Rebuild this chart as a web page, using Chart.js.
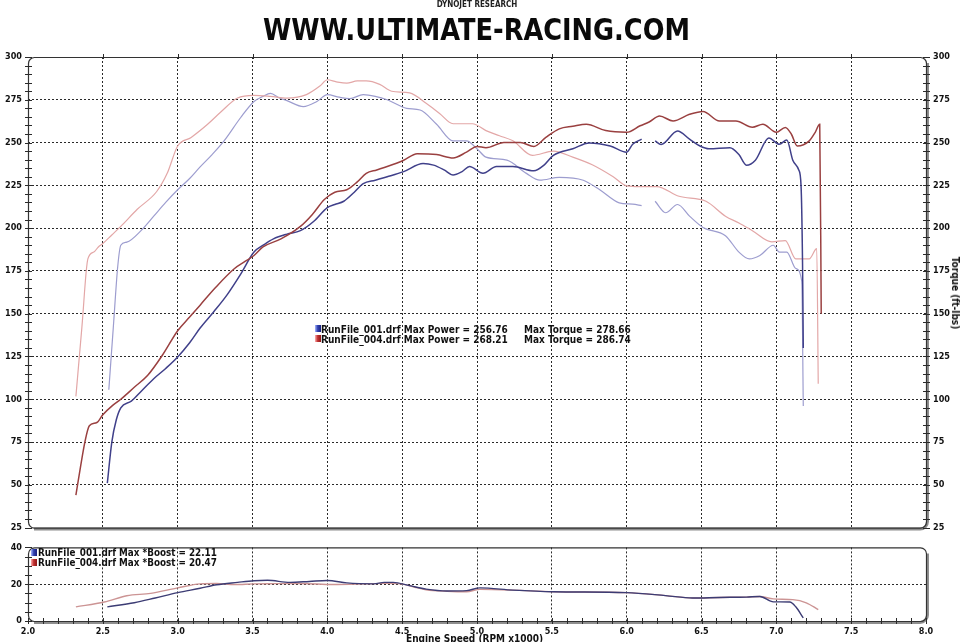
<!DOCTYPE html>
<html><head><meta charset="utf-8">
<script src="https://cdn.jsdelivr.net/npm/chart.js@4.4.1/dist/chart.umd.min.js"></script>
<style>
html,body{margin:0;padding:0;background:#fff;}
#wrap{position:relative;width:962px;height:642px;overflow:hidden;background:#fff;}
canvas{position:absolute;left:0;}
.t{position:absolute;white-space:nowrap;font-family:'DejaVu Sans Condensed','DejaVu Sans',sans-serif;font-weight:bold;color:#111;line-height:10px;font-size:10px;}
#brand{top:0px;left:0;width:954px;text-align:center;font-size:8px;line-height:9px;color:#222;}
#site{top:15px;left:263px;font-family:'Liberation Sans Narrow','DejaVu Sans Condensed',sans-serif;font-size:30px;line-height:30px;color:#0a0a0a;transform-origin:0 50%;}
.sq{position:absolute;width:6px;height:7px;}
.sqb{background:linear-gradient(90deg,#a8b8ff 0%,#3040b0 45%,#1a2080 100%);}
.sqr{background:linear-gradient(90deg,#ffb0b0 0%,#c03030 45%,#901818 100%);}
.bl{font-size:9.8px;}
#ytitle{left:955px;top:293px;font-size:10px;transform:translate(-50%,-50%) rotate(90deg);}
#xtitle{left:406px;top:634px;font-size:10px;}
</style></head>
<body>
<div id="wrap">
<canvas id="main" width="962" height="540" style="top:0px"></canvas>
<canvas id="boost" width="962" height="106" style="top:536px"></canvas>
<div class="t" id="brand">DYNOJET RESEARCH</div>
<div class="t" id="site">WWW.ULTIMATE-RACING.COM</div>
<div class="sq sqb" style="left:315px;top:325px"></div>
<div class="sq sqr" style="left:315px;top:335px"></div>
<div class="t" style="left:321px;top:325px">RunFile_001.drf Max Power = 256.76</div>
<div class="t" style="left:524px;top:325px">Max Torque = 278.66</div>
<div class="t" style="left:321px;top:335px">RunFile_004.drf Max Power = 268.21</div>
<div class="t" style="left:524px;top:335px">Max Torque = 286.74</div>
<div class="sq sqb" style="left:31px;top:549px"></div>
<div class="sq sqr" style="left:31px;top:559px"></div>
<div class="t bl" style="left:38px;top:548px">RunFile_001.drf Max *Boost = 22.11</div>
<div class="t bl" style="left:38px;top:558px">RunFile_004.drf Max *Boost = 20.47</div>
<div class="t" id="ytitle">Torque (ft-lbs)</div>
<div class="t" id="xtitle">Engine Speed (RPM x1000)</div>
</div>
<script>
// ---------- DATA ----------
const rpmPower004 = [2.32,2.35,2.38,2.41,2.46,2.50,2.56,2.62,2.71,2.80,2.90,3.00,3.08,3.15,3.25,3.38,3.45,3.51,3.57,3.69,3.82,3.90,3.98,4.05,4.13,4.20,4.26,4.33,4.40,4.51,4.60,4.73,4.84,4.93,5.00,5.06,5.18,5.29,5.38,5.46,5.55,5.64,5.73,5.86,6.00,6.09,6.15,6.22,6.31,6.42,6.51,6.62,6.73,6.84,6.91,7.00,7.06,7.10,7.14,7.22,7.26,7.29,7.30];
const power004    = [44,60,75,84.5,86.4,91,96,100,107,114,126,140,148,155,165,176.4,180.5,184,189,193.7,201,208,216.7,221,222.4,227,232,234,236,239.7,243.5,243,241,244.4,247.7,247,250,250,247.7,253,258,259.5,260.7,257,256,259.8,262,265.5,262.6,266.5,268.2,262.6,262.6,259,260.7,256,258.8,255,248,251,256,260.7,150];

const rpmTorque004 = [2.32,2.36,2.40,2.44,2.47,2.50,2.56,2.62,2.73,2.86,2.93,3.00,3.09,3.20,3.29,3.40,3.51,3.62,3.73,3.86,3.95,4.00,4.06,4.13,4.20,4.26,4.35,4.43,4.55,4.66,4.75,4.84,4.97,5.06,5.15,5.24,5.37,5.51,5.64,5.77,5.91,6.00,6.09,6.20,6.35,6.53,6.66,6.75,6.84,6.97,7.06,7.13,7.22,7.27,7.28];
const torque004    = [101.7,142,182,186,189,191,196,201,211,221.4,232,248,253,260.7,268,276,277.6,277,276,278,283,286.7,285.5,284.7,286,286,284,280,279,273,267,261,261,257,254,251,242.5,245,241.5,237,230,224.7,224.3,224.3,218.6,215.7,207,203,198.5,192,192.7,182,182,188,109];

const rpmPower001 = [2.53,2.56,2.59,2.62,2.69,2.76,2.84,2.92,3.00,3.08,3.15,3.24,3.33,3.42,3.51,3.58,3.64,3.73,3.82,3.91,4.00,4.05,4.11,4.18,4.24,4.32,4.40,4.51,4.64,4.71,4.78,4.84,4.90,4.95,5.04,5.13,5.24,5.38,5.45,5.51,5.64,5.75,5.89,6.00,6.04,6.10,6.14,6.19,6.23,6.34,6.42,6.49,6.55,6.69,6.75,6.80,6.86,6.95,7.02,7.07,7.11,7.15,7.165,7.175,7.18];
const power001    = [51,75,88,95,98.9,105,112,118,124.7,133,141.6,151,161,173,186,190.5,193.7,196.5,198.5,204,212,213.8,215.7,221,226,228,230,233,237.7,236.8,234,231,233,236,232,236,236,233.5,237,242.5,246.4,249.8,248,244.4,249,252,null,251,248.9,256.8,252,248,246.4,247,243,236.8,239.7,252.7,249,251.5,239.7,234,225,180,130];

const rpmTorque001 = [2.54,2.57,2.60,2.62,2.66,2.76,2.84,2.92,3.00,3.08,3.15,3.23,3.31,3.42,3.51,3.57,3.62,3.68,3.73,3.84,3.93,4.00,4.08,4.15,4.24,4.32,4.40,4.53,4.62,4.73,4.84,4.93,5.00,5.06,5.20,5.33,5.42,5.55,5.71,5.82,5.95,6.04,6.10,6.14,6.19,6.26,6.34,6.42,6.51,6.66,6.75,6.82,6.89,6.98,7.02,7.07,7.13,7.17,7.18];
const torque001    = [105.6,142,178,190,191.8,199,207,215,222.4,229,235.8,243,251,264.5,274,277,278.7,276,274.5,271,274,278,276.5,275.7,278,277,275,270,269,260.7,251,251,246.4,241.5,239.7,232,228,229.7,228,222.4,214.8,214,213.2,null,215.7,209,213.8,207,200.4,195.6,186,182,184,190,186,186,176.4,168.8,96];

const rpmBoost004 = [2.32,2.51,2.66,2.82,3.00,3.15,3.26,3.38,3.51,3.65,3.82,4.04,4.26,4.38,4.49,4.58,4.66,4.80,4.93,5.02,5.24,5.51,6.00,6.26,6.44,6.62,6.80,6.89,6.98,7.11,7.20,7.28];
const boost004    = [7.7,10.3,13.7,15,18,20.2,20.4,19.8,20.2,20.3,20.4,19.8,20.2,20.47,20.2,18.5,17,16.2,15.9,17.2,16.8,15.9,15.4,13.8,12.5,12.8,13,13.3,12,11.6,9.9,6.2];

const rpmBoost001 = [2.53,2.71,2.85,3.00,3.15,3.26,3.40,3.51,3.60,3.75,3.88,4.00,4.13,4.31,4.38,4.44,4.55,4.66,4.80,4.93,5.02,5.24,5.51,6.00,6.26,6.44,6.62,6.80,6.89,6.98,7.09,7.13,7.18];
const boost001    = [7.7,9.9,12.5,15.4,17.8,19.7,21,21.9,22.11,21,21.5,22.0,20.7,20.2,21,21,19.2,17.3,16.3,16.5,18,16.8,15.9,15.4,13.8,12.5,12.8,13,13.3,10.4,10.3,7.7,1.7];

// axis ranges / tick labelling
const rpmMin = 2.0, rpmMax = 8.0, rpmMajor = 0.5, rpmMinor = 0.1;
const mainMin = 25, mainMax = 300, mainMajor = 25, mainMinor = 5;
const boostMin = 0, boostMax = 40, boostMajor = 20, boostMinor = 5;

// ---------- helpers ----------
const pts = (xs, ys) => xs.map((x, i) => ({x: x, y: ys[i]}));
const range = (a, b, s) => { const out = []; const n = Math.round((b - a) / s); for (let i = 0; i <= n; i++) out.push(+(a + i * s).toFixed(4)); return out; };
const isMult = (v, m) => Math.abs(v / m - Math.round(v / m)) < 1e-6;
const FONT = {family: "'DejaVu Sans Condensed','DejaVu Sans',sans-serif", size: 9, weight: 'bold'};
const GRID = '#2a2a2a', NONE = 'rgba(0,0,0,0)';

const frame = {
  id: 'frame',
  afterDraw(chart, args, o) {
    const {ctx, chartArea: a, scales} = chart;
    const r = 6;
    ctx.save();
    ctx.beginPath();
    ctx.strokeStyle = '#8e8e8e'; ctx.lineWidth = 3;
    ctx.moveTo(a.right + 1.5, a.top + r);
    ctx.lineTo(a.right + 1.5, a.bottom - r);
    ctx.arcTo(a.right + 1.5, a.bottom + 1.5, a.right - r, a.bottom + 1.5, r + 1.5);
    ctx.lineTo(a.left + r, a.bottom + 1.5);
    ctx.stroke();
    const L = a.left + 0.5, T = a.top + 0.5, R = a.right + 0.5, B = a.bottom + 0.5;
    ctx.beginPath();
    ctx.strokeStyle = '#333'; ctx.lineWidth = 1.2;
    ctx.moveTo(L + r, T); ctx.lineTo(R - r, T); ctx.arcTo(R, T, R, T + r, r);
    ctx.lineTo(R, B - r); ctx.arcTo(R, B, R - r, B, r);
    ctx.lineTo(L + r, B); ctx.arcTo(L, B, L, B - r, r);
    ctx.lineTo(L, T + r); ctx.arcTo(L, T, L + r, T, r);
    ctx.closePath(); ctx.stroke();
    ctx.strokeStyle = '#2a2a2a'; ctx.lineWidth = 1;
    (o.marks || []).forEach(m => {
      const s = scales[m.scale];
      s.ticks.forEach(t => {
        const v = t.value;
        if (m.skipEnds && (v === s.min || v === s.max)) return;
        const p = Math.round(s.getPixelForValue(v)) + 0.5;
        ctx.beginPath();
        if (m.side === 'left')   { ctx.moveTo(a.left - 3, p);  ctx.lineTo(a.left + 4, p); }
        if (m.side === 'right')  { ctx.moveTo(a.right - 3, p); ctx.lineTo(a.right + 4, p); }
        if (m.side === 'top')    { ctx.moveTo(p, a.top - 3);   ctx.lineTo(p, a.top + 2); }
        if (m.side === 'bottom') { ctx.moveTo(p, a.bottom - 3); ctx.lineTo(p, a.bottom + 3); }
        ctx.stroke();
      });
    });
    ctx.restore();
  }
};

const lineDs = (label, xs, ys, color, w, axis) => ({
  label: label, data: pts(xs, ys), borderColor: color, borderWidth: w,
  yAxisID: axis, pointRadius: 0, fill: false, spanGaps: false,
  cubicInterpolationMode: 'monotone'
});

// ---------- MAIN CHART ----------
new Chart(document.getElementById('main'), {
  type: 'line',
  data: {datasets: [
    lineDs('RunFile_004 Power', rpmPower004, power004, '#9a4040', 1.5, 'y'),
    lineDs('RunFile_001 Power', rpmPower001, power001, '#40408a', 1.5, 'y'),
    lineDs('RunFile_004 Torque', rpmTorque004, torque004, '#e3a7a7', 1.2, 'y2'),
    lineDs('RunFile_001 Torque', rpmTorque001, torque001, '#9d9dcf', 1.2, 'y2')
  ]},
  plugins: [frame],
  options: {
    responsive: false, animation: false, events: [],
    layout: {padding: {top: 57, bottom: 5, left: 0, right: 0}},
    plugins: {legend: {display: false}, tooltip: {enabled: false},
      frame: {marks: [{scale: 'y', side: 'left'}, {scale: 'y2', side: 'right'}, {scale: 'x', side: 'top', skipEnds: true}]}},
    scales: {
      x: {type: 'linear', min: rpmMin, max: rpmMax,
        afterBuildTicks: s => { s.ticks = range(rpmMin, rpmMax, rpmMajor).map(v => ({value: v})); },
        afterFit: s => { s.height = 0; },
        ticks: {display: false},
        grid: {drawTicks: false, lineWidth: 1, color: c => (c.tick && c.tick.value > rpmMin && c.tick.value < rpmMax) ? GRID : NONE},
        border: {display: false, dash: [2, 2]}
      },
      y: {type: 'linear', position: 'left', min: mainMin, max: mainMax,
        afterBuildTicks: s => { s.ticks = range(mainMin, mainMax, mainMinor).map(v => ({value: v})); },
        afterFit: s => { s.width = 28; },
        ticks: {autoSkip: false, padding: 6, color: '#111', font: FONT, callback: v => isMult(v, mainMajor) ? String(v) : ''},
        grid: {drawTicks: false, lineWidth: 1, color: c => (c.tick && isMult(c.tick.value, mainMajor) && c.tick.value > mainMin && c.tick.value < mainMax) ? GRID : NONE},
        border: {display: false, dash: [2, 2]}
      },
      y2: {type: 'linear', position: 'right', min: mainMin, max: mainMax,
        afterBuildTicks: s => { s.ticks = range(mainMin, mainMax, mainMinor).map(v => ({value: v})); },
        afterFit: s => { s.width = 36; },
        ticks: {autoSkip: false, padding: 7, color: '#111', font: FONT, callback: v => isMult(v, mainMajor) ? String(v) : ''},
        grid: {display: false, drawTicks: false},
        border: {display: false}
      }
    }
  }
});

// ---------- BOOST CHART ----------
new Chart(document.getElementById('boost'), {
  type: 'line',
  data: {datasets: [
    lineDs('RunFile_001 Boost', rpmBoost001, boost001, '#3c3c74', 1.4, 'y'),
    lineDs('RunFile_004 Boost', rpmBoost004, boost004, '#cc9494', 1.4, 'y')
  ]},
  plugins: [frame],
  options: {
    responsive: false, animation: false, events: [],
    layout: {padding: {top: 7, bottom: 0, left: 0, right: 36}},
    plugins: {legend: {display: false}, tooltip: {enabled: false},
      frame: {marks: [{scale: 'y', side: 'left'}, {scale: 'x', side: 'bottom'}]}},
    scales: {
      x: {type: 'linear', min: rpmMin, max: rpmMax,
        afterBuildTicks: s => { s.ticks = range(rpmMin, rpmMax, rpmMinor).map(v => ({value: v})); },
        afterFit: s => { s.height = 21; },
        ticks: {autoSkip: false, maxRotation: 0, minRotation: 0, padding: 5, color: '#111', font: FONT,
          callback: v => isMult(v, rpmMajor) ? Number(v).toFixed(1) : ''},
        grid: {drawTicks: false, lineWidth: 1, color: c => (c.tick && isMult(c.tick.value, rpmMajor) && c.tick.value > rpmMin && c.tick.value < rpmMax) ? GRID : NONE},
        border: {display: false, dash: [2, 2]}
      },
      y: {type: 'linear', position: 'left', min: boostMin, max: boostMax,
        afterBuildTicks: s => { s.ticks = range(boostMin, boostMax, boostMinor).map(v => ({value: v})); },
        afterFit: s => { s.width = 28; },
        ticks: {autoSkip: false, padding: 6, color: '#111', font: FONT, callback: v => isMult(v, boostMajor) ? String(v) : ''},
        grid: {drawTicks: false, lineWidth: 1, color: c => (c.tick && isMult(c.tick.value, boostMajor) && c.tick.value > boostMin && c.tick.value < boostMax) ? GRID : NONE},
        border: {display: false, dash: [2, 2]}
      }
    }
  }
});

// fit the site banner to the reference width
(function () {
  const el = document.getElementById('site');
  const w = el.getBoundingClientRect().width;
  if (w > 0) el.style.transform = 'scaleX(' + (427 / w).toFixed(4) + ')';
})();
</script>
</body></html>
